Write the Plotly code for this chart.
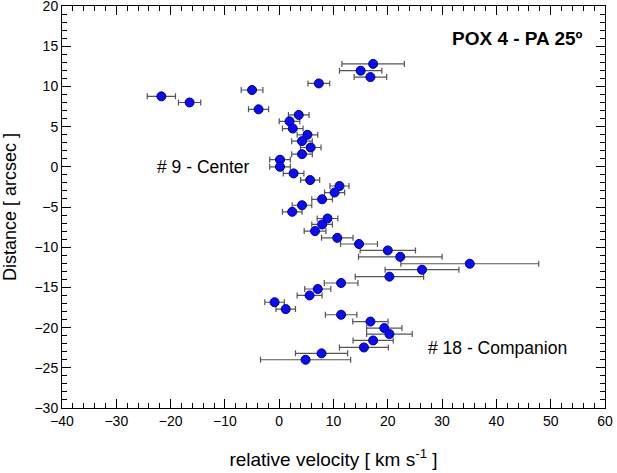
import plotly.graph_objects as go

# distance along slit [arcsec], relative velocity [km/s], velocity error [km/s]
distance = [12.8, 11.95, 11.16, 10.37, 9.55, 8.76, 8.0, 7.15, 6.45, 5.66,
            4.76, 3.98, 3.19, 2.4, 1.57, 0.88, 0.0, -0.82, -1.65, -2.39,
            -3.2, -4.04, -4.78, -5.6, -6.43, -7.17, -8.0, -8.84, -9.6, -10.4,
            -11.2, -12.06, -12.8, -13.66, -14.45, -15.2, -16.0, -16.85, -17.7, -18.4,
            -19.25, -20.06, -20.8, -21.6, -22.47, -23.2, -24.0]
velocity = [17.3, 15.0, 16.8, 7.3, -5.0, -21.7, -16.5, -3.8, 3.6, 1.9,
            2.5, 5.2, 4.2, 5.8, 4.2, 0.15, 0.15, 2.65, 5.7, 11.1,
            10.2, 7.9, 4.2, 2.4, 8.9, 7.9, 6.6, 10.7, 14.7, 20.0,
            22.3, 35.1, 26.3, 20.3, 11.4, 7.1, 5.6, -0.85, 1.2, 11.4,
            16.8, 19.35, 20.3, 17.3, 15.6, 7.8, 4.86]
vel_err = [5.75, 3.9, 3.0, 2.0, 2.0, 2.6, 2.05, 1.85, 1.9, 1.9,
           1.9, 1.9, 1.9, 1.9, 1.9, 1.9, 1.9, 1.9, 1.75, 1.75,
           1.85, 1.9, 1.8, 1.8, 1.9, 1.9, 2.0, 2.9, 3.4, 5.1,
           7.7, 12.7, 6.8, 6.3, 3.1, 2.4, 2.3, 1.8, 1.8, 2.9,
           3.25, 3.25, 4.2, 3.7, 4.5, 4.8, 8.3]

fig = go.Figure()
fig.add_trace(go.Scatter(
    x=velocity, y=distance, mode='markers',
    marker=dict(size=9, color='#0a0aff', line=dict(color='#000080', width=1)),
    error_x=dict(type='data', array=vel_err, visible=True,
                 color='#555555', thickness=1.2, width=3),
    showlegend=False))

fig.add_annotation(x=-14, y=0, text='# 9 - Center', showarrow=False,
                   font=dict(size=17.5, color='black'))
fig.add_annotation(x=40.2, y=-22.5, text='# 18 - Companion', showarrow=False,
                   font=dict(size=17.5, color='black'))
fig.add_annotation(x=43.9, y=16.0, text='<b>POX 4 - PA 25º</b>', showarrow=False,
                   font=dict(size=19, color='black'))

axis_style = dict(showline=True, linecolor='black', linewidth=1, mirror='allticks',
                  ticks='inside', ticklen=9, tickcolor='black', tickwidth=1,
                  showgrid=False, zeroline=False, automargin=False,
                  ticklabeloverflow='allow',
                  tickfont=dict(size=14, color='black'))

fig.update_xaxes(range=[-40, 60], dtick=10,
                 minor=dict(dtick=2, ticks='inside', ticklen=5, tickcolor='black'),
                 title=dict(text='relative velocity [ km s<sup>-1</sup> ]',
                            font=dict(size=19, color='black'), standoff=24),
                 **axis_style)
fig.update_yaxes(range=[-30, 20], dtick=5,
                 minor=dict(dtick=1, ticks='inside', ticklen=5, tickcolor='black'),
                 title=dict(text='Distance [ arcsec ]',
                            font=dict(size=18, color='black'), standoff=14),
                 **axis_style)

fig.update_layout(width=617, height=473,
                  margin=dict(l=62, r=12, t=6, b=65),
                  plot_bgcolor='white', paper_bgcolor='white',
                  font=dict(family='Liberation Sans, Arial, sans-serif', color='black'))

fig.write_html("out.html", config={'displayModeBar': False},
               post_script="document.body.style.margin='0';")
